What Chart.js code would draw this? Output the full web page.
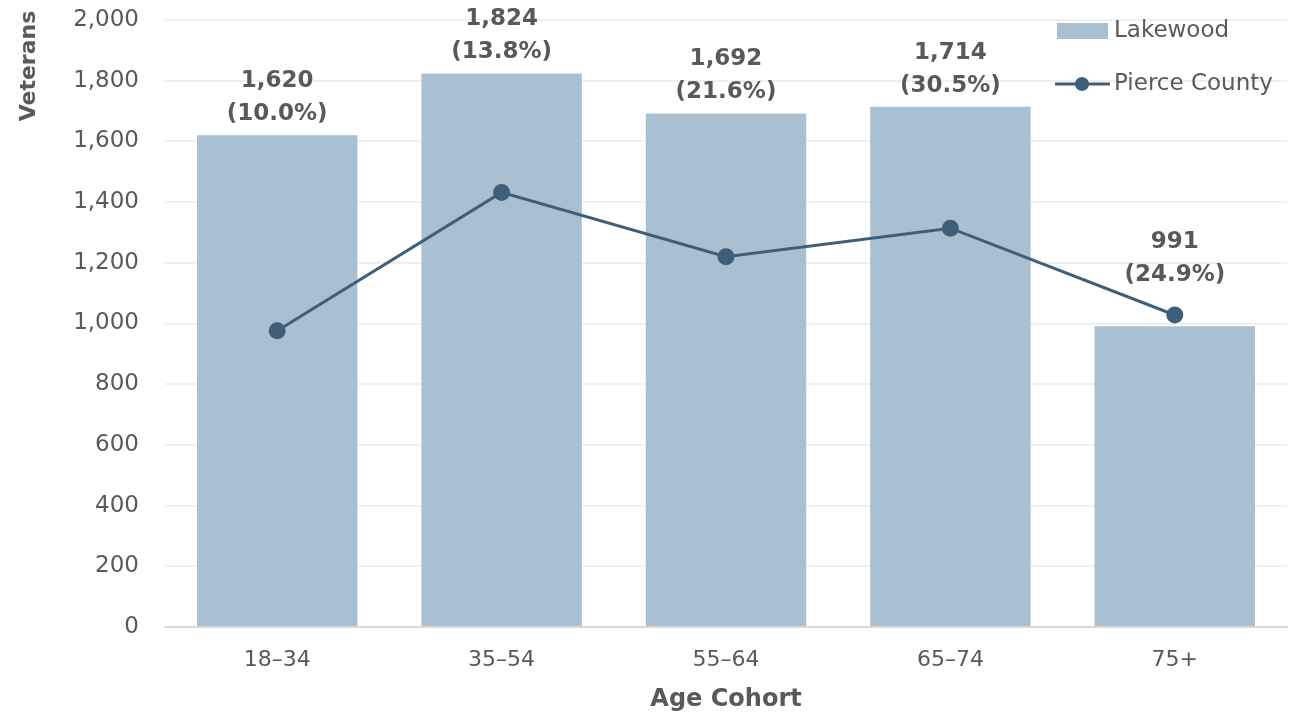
<!DOCTYPE html>
<html>
<head>
<meta charset="utf-8">
<script src="https://cdn.jsdelivr.net/npm/chart.js@4.4.1/dist/chart.umd.min.js"></script>
<style>
  html, body { margin: 0; padding: 0; background: #ffffff; }
  #wrap { width: 1291px; height: 721px; position: relative; }
</style>
</head>
<body>
<div id="wrap"><canvas id="c" width="1291" height="721"></canvas></div>
<script>
// Veterans by age cohort
const categories = ['18–34', '35–54', '55–64', '65–74', '75+'];
const lakewood = [1620, 1824, 1692, 1714, 991];
const lakewoodShare = ['10.0%', '13.8%', '21.6%', '30.5%', '24.9%'];
const pierceCounty = [976, 1432, 1220, 1314, 1028];
const yTicks = [0, 200, 400, 600, 800, 1000, 1200, 1400, 1600, 1800, 2000];

const FONT = '"DejaVu Sans", sans-serif';
const TEXT = '#595959';
const BAR = '#aac0d1';
const LINE = '#3f5f78';

// Two-line value labels above each bar, lifted clear of the line marker when it sits higher
const barLabels = {
  id: 'barLabels',
  afterDatasetsDraw(chart) {
    const ctx = chart.ctx;
    const bars = chart.getDatasetMeta(0).data;
    const pts = chart.getDatasetMeta(1).data;
    ctx.save();
    ctx.fillStyle = TEXT;
    ctx.font = 'bold 23px ' + FONT;
    ctx.textAlign = 'center';
    ctx.textBaseline = 'alphabetic';
    bars.forEach((bar, i) => {
      const v = chart.data.datasets[0].data[i];
      const anchor = Math.min(bar.y, pts[i].y - 19);
      ctx.fillText(v.toLocaleString('en-US'), bar.x, anchor - 48);
      ctx.fillText('(' + lakewoodShare[i] + ')', bar.x, anchor - 15);
    });
    ctx.restore();
  }
};

// Axis titles and the legend box inside the plot
const extras = {
  id: 'extras',
  afterDraw(chart) {
    const ctx = chart.ctx;
    const area = chart.chartArea;
    ctx.save();
    ctx.fillStyle = TEXT;
    ctx.font = 'bold 24px ' + FONT;
    ctx.textAlign = 'center';
    ctx.textBaseline = 'middle';
    ctx.fillText('Age Cohort', (area.left + area.right) / 2, 700);
    ctx.font = 'bold 22px ' + FONT;
    ctx.translate(29, 66);
    ctx.rotate(-Math.PI / 2);
    ctx.fillText('Veterans', 0, 0);
    ctx.restore();

    ctx.save();
    const ds = chart.data.datasets;
    ctx.fillStyle = ds[0].backgroundColor;
    ctx.fillRect(1057, 23, 51, 16);
    ctx.strokeStyle = ds[1].borderColor;
    ctx.lineWidth = 3;
    ctx.beginPath();
    ctx.moveTo(1055, 84);
    ctx.lineTo(1110, 84);
    ctx.stroke();
    ctx.fillStyle = ds[1].pointBackgroundColor;
    ctx.beginPath();
    ctx.arc(1082, 84, 7, 0, Math.PI * 2);
    ctx.fill();
    ctx.fillStyle = TEXT;
    ctx.font = '23px ' + FONT;
    ctx.textAlign = 'left';
    ctx.textBaseline = 'middle';
    ctx.fillText(ds[0].label, 1114, 31);
    ctx.fillText(ds[1].label, 1114, 84);
    ctx.restore();
  }
};

new Chart(document.getElementById('c'), {
  data: {
    labels: categories,
    datasets: [
      {
        type: 'bar',
        label: 'Lakewood',
        data: lakewood,
        backgroundColor: BAR,
        borderWidth: 0,
        categoryPercentage: 0.715,
        barPercentage: 1.0,
        order: 2
      },
      {
        type: 'line',
        label: 'Pierce County',
        data: pierceCounty,
        borderColor: LINE,
        backgroundColor: LINE,
        pointBackgroundColor: LINE,
        pointBorderColor: LINE,
        pointRadius: 7,
        pointHoverRadius: 7,
        borderWidth: 3,
        tension: 0,
        order: 1
      }
    ]
  },
  options: {
    responsive: false,
    animation: false,
    events: [],
    layout: { autoPadding: false, padding: { top: 20, right: 4, left: 0, bottom: 0 } },
    plugins: {
      legend: { display: false },
      tooltip: { enabled: false }
    },
    scales: {
      x: {
        grid: { display: false, drawTicks: false },
        border: { display: true, color: '#d9d9d9', width: 2 },
        ticks: { color: TEXT, font: { family: FONT, size: 22 }, padding: 20 },
        afterFit(scale) {
          scale.height = 94;
          scale.paddingLeft = 0;
          scale.paddingRight = 0;
        }
      },
      y: {
        min: 0,
        max: 2000,
        afterBuildTicks(scale) { scale.ticks = yTicks.map(v => ({ value: v })); },
        grid: {
          color: (c) => c.tick && c.tick.value === 0 ? 'rgba(0,0,0,0)' : '#f0f0f0',
          lineWidth: 2,
          drawTicks: false
        },
        border: { display: false },
        ticks: {
          color: TEXT,
          font: { family: FONT, size: 23 },
          padding: 26,
          callback: (v) => Number(v).toLocaleString('en-US')
        },
        afterFit(scale) {
          scale.width = 165;
          scale.paddingTop = 0;
          scale.paddingBottom = 0;
        }
      }
    }
  },
  plugins: [barLabels, extras]
});
</script>
</body>
</html>
